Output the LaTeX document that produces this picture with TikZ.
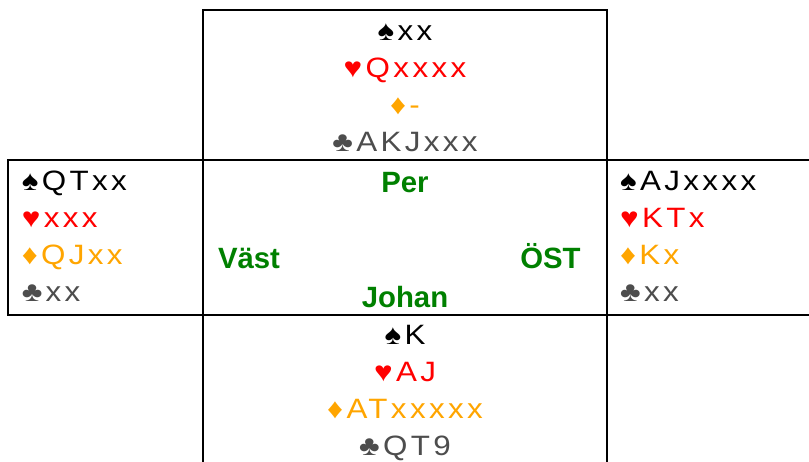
\documentclass[tikz,border=0pt]{standalone}
\usepackage{fontspec}
\setmainfont{Liberation Sans}
\newfontfamily\handfont[FakeStretch=1.12, LetterSpace=12]{Liberation Sans}
\usepackage{xcolor}
\usetikzlibrary{positioning,calc}

\definecolor{heartred}{RGB}{255,0,0}
\definecolor{diamondorange}{RGB}{255,165,0}
\definecolor{clubgray}{RGB}{77,77,77}
\definecolor{seatgreen}{RGB}{0,128,0}

\newcommand{\spd}[1]{{\color{black}♠#1}}
\newcommand{\hrt}[1]{{\color{heartred}♥#1}}
\newcommand{\dmd}[1]{{\color{diamondorange}♦#1}}
\newcommand{\clb}[1]{{\color{clubgray}♣#1}}

\begin{document}
\begin{tikzpicture}[x=0.75pt, y=-0.75pt, node distance=0pt, outer sep=0pt,
    box/.style={rectangle, draw, line width=1.5pt},
    hand/.style={align=#1, font=\handfont\fontsize{21}{27.75}\selectfont},
    seat/.style={text=seatgreen, font=\bfseries\fontsize{22}{26}\selectfont}]
    \useasboundingbox (0,0) rectangle (809,461);
    \clip (0,0) rectangle (809,461);

    % the table and the four hands round it
    \node (table) [box, minimum width=303pt, minimum height=116.25pt] at (405,237.5) {};
    \node (north) [box, minimum width=303pt, minimum height=112.5pt, above=of table] {};
    \node (south) [box, minimum width=303pt, minimum height=112.5pt, below=of table] {};
    \node (west) [box, minimum width=146.25pt, minimum height=116.25pt, left=of table] {};
    \node (east) [box, minimum width=153.75pt, minimum height=116.25pt, right=of table] {};

    \node (nhand) [hand=center, yshift=-2.25pt] at (north) {\spd{xx}\\\hrt{Qxxxx}\\\dmd{-}\\\clb{AKJxxx}};
    \node (shand) [hand=center, yshift=-2.25pt] at (south) {\spd{K}\\\hrt{AJ}\\\dmd{ATxxxxx}\\\clb{QT9}};
    \node (whand) [hand=left, right=7pt of west.west, yshift=1.2pt] {\spd{QTxx}\\\hrt{xxx}\\\dmd{QJxx}\\\clb{xx}};
    \node (ehand) [hand=left, right=6.5pt of east.west, yshift=1.2pt] {\spd{AJxxxx}\\\hrt{KTx}\\\dmd{Kx}\\\clb{xx}};

    % players
    \node (per) [seat, anchor=base] at ($(table.north)+(0,32)$) {Per};
    \node (johan) [seat, anchor=base] at ($(table.south)+(0,-7.5)$) {Johan};
    \node (vast) [seat, anchor=base west] at ($(table.west)+(10.6,31)$) {Väst};
    \node (ost) [seat, anchor=base east] at ($(table.east)+(-22,31)$) {ÖST};
\end{tikzpicture}
\end{document}
